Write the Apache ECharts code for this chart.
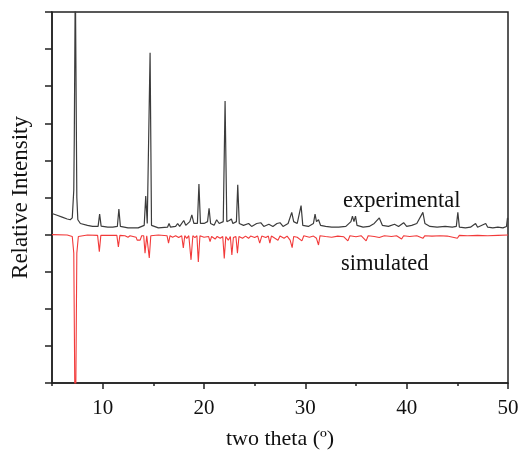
<!DOCTYPE html>
<html>
<head>
<meta charset="utf-8">
<script src="https://cdn.jsdelivr.net/npm/echarts@6/dist/echarts.min.js"></script>
<style>
  html, body { margin: 0; padding: 0; background: #fff; }
  #main { width: 523px; height: 450px; }
</style>
</head>
<body>
<div id="main"></div>
<script>
// experimental pattern (offset up)
const expTheta = [5.0, 5.5, 6.0, 6.5, 6.8, 7.0, 7.15, 7.2, 7.3, 7.45, 7.55, 7.8, 8.5, 9.0, 9.55, 9.7, 9.85,
  10.5, 11.0, 11.45, 11.6, 11.75, 12.5, 13.5, 14.1, 14.25, 14.4, 14.55, 14.68, 14.82, 15.5, 16.4, 16.55,
  16.7, 17.2, 17.4, 17.6, 18.0, 18.2, 18.6, 18.8, 19.0, 19.35, 19.5, 19.65, 20.0, 20.35, 20.5, 20.65,
  21.0, 21.25, 21.5, 21.9, 22.08, 22.25, 22.5, 22.7, 22.85, 23.2, 23.33, 23.48, 23.9, 24.4, 24.7, 25.2,
  25.6, 25.9, 26.4, 26.8, 27.2, 27.5, 27.8, 28.3, 28.66, 28.85, 29.2, 29.58, 29.75, 30.3, 30.8, 30.96,
  31.1, 31.3, 31.5, 32.0, 32.6, 33.3, 34.0, 34.5, 34.65, 34.8, 34.95, 35.1, 35.7, 36.3, 36.8, 37.3,
  37.6, 38.2, 38.8, 39.2, 39.7, 40.0, 40.5, 41.0, 41.6, 41.8, 42.3, 43.0, 43.8, 44.5, 44.9, 45.05,
  45.2, 45.8, 46.3, 46.8, 47.0, 47.8, 48.0, 48.5, 49.0, 49.5, 49.85, 49.95, 50.0];
const expIntensity = [4.57, 4.52, 4.47, 4.42, 4.40, 4.45, 5.2, 6.6, 11, 5.0, 4.4, 4.3, 4.25, 4.22, 4.22, 4.55, 4.23,
  4.2, 4.2, 4.22, 4.69, 4.22, 4.18, 4.18, 4.25, 5.04, 4.3, 4.3, 8.9, 4.25, 4.18, 4.2, 4.3,
  4.2, 4.22, 4.3, 4.22, 4.38, 4.25, 4.35, 4.53, 4.3, 4.3, 5.36, 4.3, 4.3, 4.35, 4.71, 4.3,
  4.25, 4.4, 4.3, 4.35, 7.6, 4.35, 4.38, 4.42, 4.3, 4.35, 5.34, 4.3, 4.25, 4.3, 4.22, 4.3,
  4.32, 4.22, 4.28, 4.22, 4.3, 4.32, 4.22, 4.3, 4.6, 4.35, 4.3, 4.78, 4.25, 4.22, 4.3, 4.55,
  4.35, 4.4, 4.25, 4.22, 4.2, 4.2, 4.22, 4.35, 4.5, 4.35, 4.5, 4.25, 4.2, 4.22, 4.3, 4.45,
  4.25, 4.22, 4.28, 4.22, 4.32, 4.22, 4.25, 4.3, 4.6, 4.3, 4.22, 4.2, 4.22, 4.2, 4.22, 4.6,
  4.2, 4.18, 4.2, 4.3, 4.2, 4.3, 4.2, 4.18, 4.2, 4.18, 4.22, 4.45, 4.4];

// simulated pattern (inverted, baseline at 4)
const simTheta = [5.0, 6.5, 7.0, 7.15, 7.3, 7.45, 7.6, 8.5, 9.5, 9.67, 9.82, 11.4, 11.55, 11.7, 12.2, 12.5,
  12.7, 13.3, 13.4, 13.55, 13.7, 13.85, 14.05, 14.18, 14.35, 14.48, 14.6, 14.75, 15.5, 16.35, 16.5, 16.65,
  16.9, 17.2, 17.5, 17.8, 17.96, 18.1, 18.3, 18.5, 18.72, 18.9, 19.1, 19.3, 19.44, 19.6, 20.0, 20.45,
  20.6, 20.75, 21.1, 21.3, 21.6, 21.85, 22.0, 22.15, 22.4, 22.6, 22.75, 22.9, 23.15, 23.3, 23.45, 23.8,
  24.1, 24.4, 24.6, 25.0, 25.3, 25.5, 25.7, 26.1, 26.35, 26.5, 26.65, 27.0, 27.3, 27.5, 27.9, 28.2,
  28.5, 28.7, 28.85, 29.2, 29.66, 29.85, 30.4, 30.8, 31.1, 31.3, 31.45, 32.0, 32.6, 33.2, 33.8, 34.2,
  34.4, 35.0, 35.5, 36.0, 36.2, 36.8, 37.3, 37.8, 38.5, 39.0, 39.5, 39.7, 40.3, 41.0, 41.6, 41.8,
  42.5, 43.3, 44.0, 45.0, 45.2, 46.0, 47.0, 48.0, 49.0, 50.0];
const simIntensity = [4.0, 3.99, 3.95, 3.5, -2, 3.5, 3.95, 3.99, 3.98, 3.54, 3.98, 3.98, 3.67, 3.98, 3.97, 3.93,
  3.97, 3.93, 3.85, 3.9, 3.85, 3.97, 3.97, 3.5, 3.97, 3.97, 3.37, 3.97, 3.99, 3.97, 3.77, 3.97,
  3.93, 3.97, 3.92, 3.97, 3.64, 3.97, 3.9, 3.97, 3.32, 3.97, 3.92, 3.97, 3.26, 3.97, 3.93, 3.95,
  3.81, 3.95, 3.88, 3.95, 3.9, 3.95, 3.36, 3.95, 3.85, 3.95, 3.45, 3.92, 3.95, 3.5, 3.95, 3.9,
  3.96, 3.9, 3.96, 3.92, 3.96, 3.77, 3.96, 3.92, 3.96, 3.77, 3.96, 3.9, 3.85, 3.96, 3.9, 3.96,
  3.85, 3.65, 3.95, 3.93, 3.83, 3.97, 3.93, 3.96, 3.9, 3.72, 3.97, 3.95, 3.93, 3.96, 3.94, 3.83,
  3.97, 3.94, 3.97, 3.83, 3.97, 3.95, 3.92, 3.97, 3.95, 3.97, 3.88, 3.97, 3.95, 3.97, 3.9, 3.97,
  3.96, 3.97, 3.96, 3.9, 3.98, 3.97, 3.98, 3.97, 3.98, 3.99];

// x ticks: labelled majors and short unlabelled minors
const majorTicks = [10, 20, 30, 40, 50];
const minorTicks = [5, 15, 25, 35, 45];

const font = 'Liberation Serif';
const axisColor = '#222';

const chart = echarts.init(document.getElementById('main'));

const toPairs = (xs, ys) => xs.map((x, i) => [x, ys[i]]);

chart.setOption({
  animation: false,
  grid: {
    left: 52, right: 15, top: 12, bottom: 67,
    outerBoundsMode: 'none',
    show: true,
    borderColor: axisColor,
    borderWidth: 1.5
  },
  xAxis: [
    {
      type: 'value',
      min: 5,
      max: 50,
      name: 'two theta (º)',
      nameLocation: 'middle',
      nameGap: 45,
      nameTextStyle: { fontFamily: font, fontSize: 22, color: '#111' },
      axisLine: { onZero: false, lineStyle: { color: axisColor, width: 1.5 } },
      axisTick: { inside: false, length: 6, customValues: majorTicks, lineStyle: { color: axisColor, width: 1.5 } },
      axisLabel: { fontFamily: font, fontSize: 21, color: '#111', margin: 15, customValues: majorTicks },
      splitLine: { show: false }
    },
    {
      type: 'value',
      min: 5,
      max: 50,
      position: 'bottom',
      axisLine: { show: false, onZero: false },
      axisTick: { inside: false, length: 3, customValues: minorTicks, lineStyle: { color: axisColor, width: 1.5 } },
      axisLabel: { show: false },
      splitLine: { show: false }
    }
  ],
  yAxis: {
    type: 'value',
    min: 0,
    max: 10,
    interval: 1,
    name: 'Relative Intensity',
    nameLocation: 'middle',
    nameGap: 20,
    nameTextStyle: { fontFamily: font, fontSize: 23, color: '#111' },
    axisLine: { show: true, lineStyle: { color: axisColor, width: 1.5 } },
    axisTick: { show: true, inside: false, length: 7, lineStyle: { color: axisColor, width: 1.5 } },
    axisLabel: { show: false },
    splitLine: { show: false }
  },
  series: [
    {
      name: 'experimental',
      type: 'line',
      data: toPairs(expTheta, expIntensity),
      showSymbol: false,
      clip: true,
      lineStyle: { color: '#3c3c3c', width: 1.2 },
      z: 3
    },
    {
      name: 'simulated',
      type: 'line',
      data: toPairs(simTheta, simIntensity),
      showSymbol: false,
      clip: true,
      lineStyle: { color: '#f23a3a', width: 1.1 },
      z: 2
    }
  ],
  graphic: [
    {
      type: 'text', left: 343, top: 190,
      style: { text: 'experimental', font: '22.5px "Liberation Serif"', fill: '#111' }
    },
    {
      type: 'text', left: 341, top: 253,
      style: { text: 'simulated', font: '22.5px "Liberation Serif"', fill: '#111' }
    }
  ]
});
</script>
</body>
</html>
